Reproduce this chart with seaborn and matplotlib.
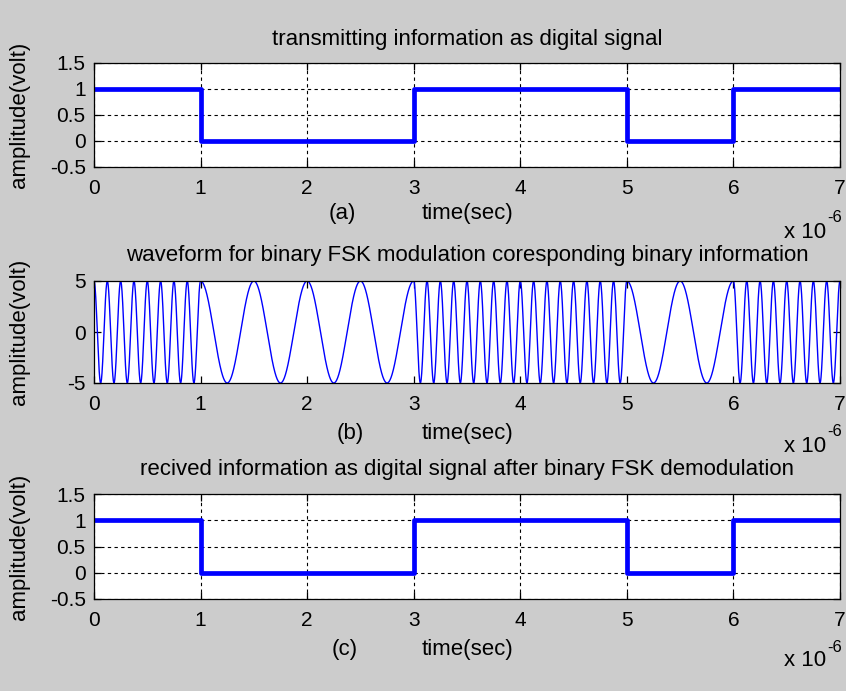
import numpy as np
import pandas as pd
import matplotlib
matplotlib.use('Agg')
import matplotlib.pyplot as plt
import seaborn as sns

# transmitted / received bit stream, one bit per microsecond
bits_tx = [1, 0, 0, 1, 1, 0, 1]
bits_rx = [1, 0, 0, 1, 1, 0, 1]
bit_time = 1.0          # microseconds (axis shown as x 10^-6 s)
amp = 5                 # carrier amplitude (volt)
freq_one = 8            # cycles per microsecond for bit 1
freq_zero = 2           # cycles per microsecond for bit 0
samples_per_bit = 800

titles = ['transmitting information as digital signal',
          'waveform for binary FSK modulation coresponding binary information',
          'recived information as digital signal after binary FSK demodulation']
tags = ['(a)', '(b)', '(c)']
digital_yticks = [-0.5, 0, 0.5, 1, 1.5]
fsk_yticks = [-5, 0, 5]
xticks = [0, 1, 2, 3, 4, 5, 6, 7]

W, H = 846, 691


def px(x, y):
    return x / W, 1 - y / H


def step_frame(bits):
    t = np.arange(len(bits) + 1) * bit_time
    lvl = list(bits) + [bits[-1]]
    return pd.DataFrame({'t': t, 'level': lvl})


def fsk_frame(bits):
    ts, vs = [], []
    for k, b in enumerate(bits):
        t = np.linspace(k * bit_time, (k + 1) * bit_time, samples_per_bit)
        f = freq_one if b == 1 else freq_zero
        ts.append(t)
        vs.append(amp * np.cos(2 * np.pi * f * t))
    return pd.DataFrame({'t': np.concatenate(ts), 'v': np.concatenate(vs)})


sns.set_theme(style='ticks')
plt.rcParams['font.family'] = ['Liberation Sans', 'DejaVu Sans']
plt.rcParams['axes.edgecolor'] = 'black'
plt.rcParams['axes.labelcolor'] = 'black'
plt.rcParams['axes.titlecolor'] = 'black'
plt.rcParams['text.color'] = 'black'
plt.rcParams['xtick.color'] = 'black'
plt.rcParams['ytick.color'] = 'black'
plt.rcParams['axes.unicode_minus'] = False

fig = plt.figure(figsize=(W / 100, H / 100), dpi=100, facecolor='#cccccc')

# axes boxes in pixels: (top, bottom)
boxes = [(63, 167), (281, 383), (494, 599)]
left, right = 94, 840
xlabel_y = [213, 433, 649]
tag_x = [342, 350, 345]
title_y = [40, 256, 470]
offset_y = [232, 446, 661]

axes = []
for i, (top, bot) in enumerate(boxes):
    ax = fig.add_axes([left / W, 1 - bot / H, (right - left) / W, (bot - top) / H])
    axes.append(ax)

ax1, ax2, ax3 = axes

sns.lineplot(data=step_frame(bits_tx), x='t', y='level', drawstyle='steps-post',
             color='#0000ff', linewidth=3.4, ax=ax1)
sns.lineplot(data=fsk_frame(bits_tx), x='t', y='v', color='#0000ff', linewidth=1.0,
             estimator=None, sort=False, ax=ax2)
sns.lineplot(data=step_frame(bits_rx), x='t', y='level', drawstyle='steps-post',
             color='#0000ff', linewidth=3.4, ax=ax3)

for i, ax in enumerate(axes):
    top, bot = boxes[i]
    h = bot - top
    ax.set_facecolor('white')
    ax.set_xlim(0, 7)
    ax.set_xticks(xticks)
    if i == 1:
        ax.set_ylim(-5, 5)
        ax.set_yticks(fsk_yticks)
    else:
        ax.set_ylim(-0.5, 1.5)
        ax.set_yticks(digital_yticks)
        ax.set_yticklabels(['-0.5', '0', '0.5', '1', '1.5'])
        ax.grid(True, color='black', linestyle=(0, (3, 3)), linewidth=0.8)
    for s in ax.spines.values():
        s.set_visible(True)
        s.set_linewidth(0.9)
        s.set_color('black')
    ax.tick_params(direction='in', top=True, right=True, length=5, width=0.9,
                   labelsize=15)
    ax.tick_params(axis='x', pad=9)
    ax.tick_params(axis='y', pad=6)
    ax.set_xlabel('time(sec)', fontsize=16, va='center')
    ax.xaxis.set_label_coords(0.5, -(xlabel_y[i] - bot) / h)
    ax.set_ylabel('amplitude(volt)', fontsize=16, va='center')
    ax.yaxis.set_label_coords((20 - left) / (right - left), 0.5)
    ax.set_title(titles[i], fontsize=16, y=1 + (top - title_y[i]) / h, va='center', pad=0)
    fig.text(*px(tag_x[i], xlabel_y[i]), tags[i], fontsize=16, ha='center', va='center')
    fig.text(*px(826, offset_y[i]), 'x 10', fontsize=16, ha='right', va='center')
    fig.text(*px(827, offset_y[i] - 14), '-6', fontsize=12, ha='left', va='center')

fig.savefig('out.png', dpi=100, facecolor=fig.get_facecolor())
